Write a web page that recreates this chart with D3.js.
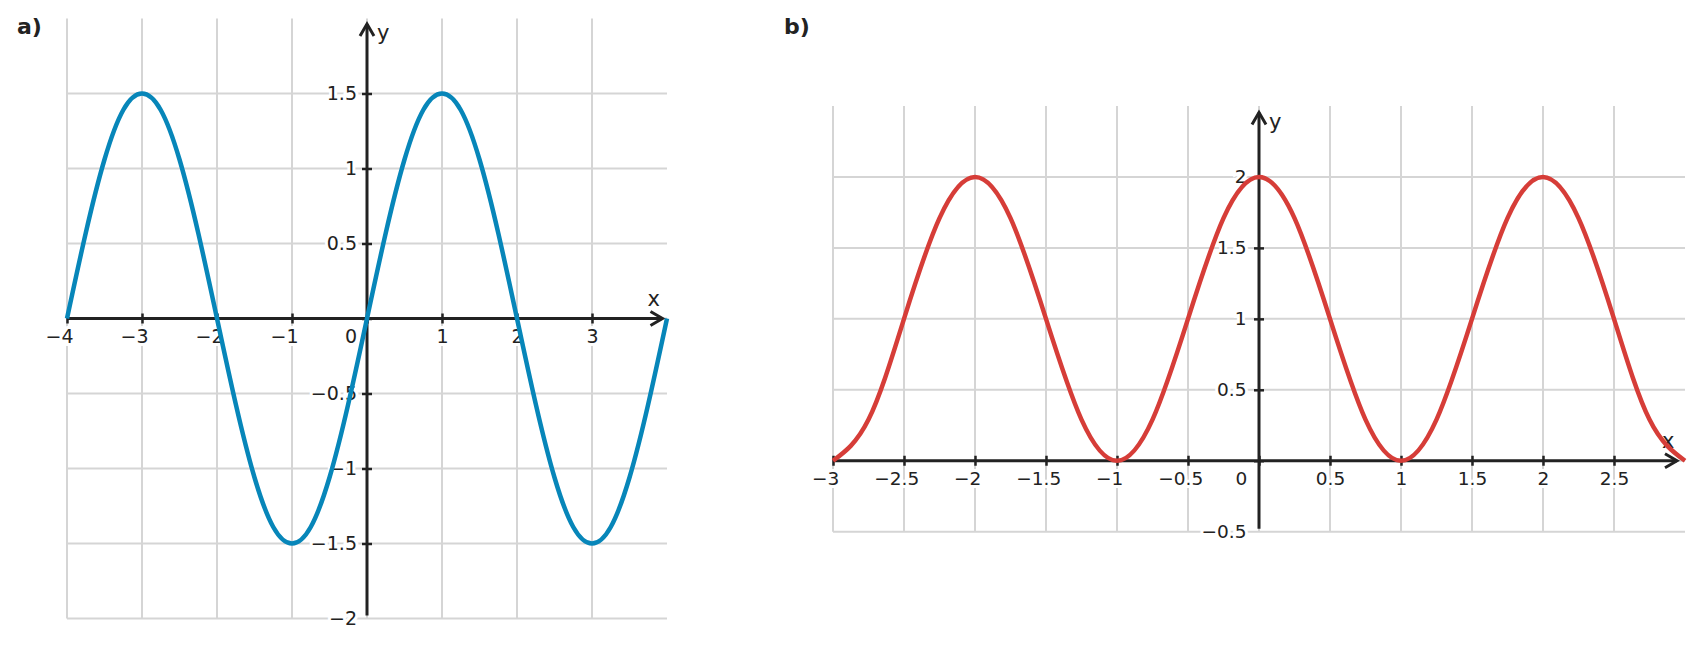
<!doctype html>
<html>
<head>
<meta charset="utf-8">
<style>
body { margin: 0; background: white; }
text { font-family: "DejaVu Sans", sans-serif; fill: #222; }
</style>
<script src="https://cdnjs.cloudflare.com/ajax/libs/d3/7.8.5/d3.min.js"></script>
</head>
<body>
<div id="chart"></div>
<script>
var aX = [-4, -3.75, -3.5, -3.25, -3, -2.75, -2.5, -2.25, -2, -1.75, -1.5, -1.25, -1, -0.75, -0.5, -0.25,
          0, 0.25, 0.5, 0.75, 1, 1.25, 1.5, 1.75, 2, 2.25, 2.5, 2.75, 3, 3.25, 3.5, 3.75, 4];
var aY = [0, 0.57, 1.06, 1.39, 1.5, 1.39, 1.06, 0.57, 0, -0.57, -1.06, -1.39, -1.5, -1.39, -1.06, -0.57,
          0, 0.57, 1.06, 1.39, 1.5, 1.39, 1.06, 0.57, 0, -0.57, -1.06, -1.39, -1.5, -1.39, -1.06, -0.57, 0];
var aTicksX = [-4, -3, -2, -1, 0, 1, 2, 3];
var aTicksY = [-2, -1.5, -1, -0.5, 0, 0.5, 1, 1.5];

// panel b
var bX = [-3, -2.75, -2.5, -2.25, -2, -1.75, -1.5, -1.25, -1, -0.75, -0.5, -0.25,
          0, 0.25, 0.5, 0.75, 1, 1.25, 1.5, 1.75, 2, 2.25, 2.5, 2.75, 3];
var bY = [0, 0.29, 1, 1.71, 2, 1.71, 1, 0.29, 0, 0.29, 1, 1.71,
          2, 1.71, 1, 0.29, 0, 0.29, 1, 1.71, 2, 1.71, 1, 0.29, 0];
var bTicksX = [-3, -2.5, -2, -1.5, -1, -0.5, 0, 0.5, 1, 1.5, 2, 2.5];
var bTicksY = [-0.5, 0, 0.5, 1, 1.5, 2];

var width = 1702, height = 648;

var svg = d3.select("#chart").append("svg")
    .attr("width", width)
    .attr("height", height);

function fmt(d) {
  if (d === 0) return "";
  return (d < 0 ? "\u2212" : "") + Math.abs(d);
}

function panel(o) {
  var x = d3.scaleLinear().domain(o.xDomain).range(o.xRange);
  var y = d3.scaleLinear().domain(o.yDomain).range(o.yRange);
  var g = svg.append("g");

  // grid
  g.selectAll(".vgrid").data(o.ticksX).enter().append("line")
    .attr("x1", d => x(d)).attr("x2", d => x(d))
    .attr("y1", y(o.yDomain[0])).attr("y2", y(o.yDomain[1]))
    .attr("stroke", "#d5d5d5").attr("stroke-width", 2);
  g.selectAll(".hgrid").data(o.ticksY).enter().append("line")
    .attr("y1", d => y(d)).attr("y2", d => y(d))
    .attr("x1", x(o.xDomain[0])).attr("x2", x(o.xDomain[1]))
    .attr("stroke", "#d5d5d5").attr("stroke-width", 2);

  // x axis ticks + labels
  var xa = g.append("g")
    .attr("transform", "translate(0," + y(0) + ")")
    .call(d3.axisBottom(x).tickValues(o.ticksX).tickSize(5).tickFormat(fmt));
  xa.select(".domain").remove();
  xa.selectAll(".tick line").attr("y1", -5).attr("y2", 5)
    .attr("stroke", "#222").attr("stroke-width", 2.5);
  // minus sign hangs to the left, digits stay centred on the tick
  xa.selectAll(".tick text").attr("y", 18).attr("dy", "0.35em")
    .attr("dx", d => d < 0 ? "-0.42em" : null);
  xa.append("text").attr("x", x(0) - o.zeroShift).attr("y", 18).attr("dy", "0.35em")
    .attr("text-anchor", "middle").text("0");

  // y axis ticks + labels
  var ya = g.append("g")
    .attr("transform", "translate(" + x(0) + ",0)")
    .call(d3.axisLeft(y).tickValues(o.ticksY).tickSize(5).tickFormat(fmt));
  ya.select(".domain").remove();
  ya.selectAll(".tick line").attr("x1", 5).attr("x2", -5)
    .attr("stroke", "#222").attr("stroke-width", 2.5)
    .attr("display", d => d === o.yDomain[0] ? "none" : null);
  ya.selectAll(".tick text").attr("x", -o.yLabelGap).attr("dy", "0.3em");

  [xa, ya].forEach(function (ax) {
    ax.attr("font-size", null).attr("font-family", null);
    ax.selectAll("text")
      .attr("fill", "#222")
      .style("font-size", o.fontSize + "px")
      .attr("stroke", "white").attr("stroke-width", 6)
      .attr("paint-order", "stroke");
  });

  // axis lines with open arrow heads
  var tipX = x(o.xDomain[1]) - o.tipInset[0];
  var tipY = y(o.yDomain[1]) + o.tipInset[1];
  var y0 = y(0), x0 = x(0);
  g.append("line").attr("x1", x(o.xDomain[0])).attr("x2", tipX)
    .attr("y1", y0).attr("y2", y0)
    .attr("stroke", "#222").attr("stroke-width", 3);
  g.append("path")
    .attr("d", "M" + (tipX - 12) + "," + (y0 - 7) + "L" + tipX + "," + y0 + "L" + (tipX - 12) + "," + (y0 + 7))
    .attr("fill", "none").attr("stroke", "#222").attr("stroke-width", 3);
  g.append("line").attr("x1", x0).attr("x2", x0)
    .attr("y1", y(o.yDomain[0]) - 3).attr("y2", tipY)
    .attr("stroke", "#222").attr("stroke-width", 3);
  g.append("path")
    .attr("d", "M" + (x0 - 7) + "," + (tipY + 12) + "L" + x0 + "," + tipY + "L" + (x0 + 7) + "," + (tipY + 12))
    .attr("fill", "none").attr("stroke", "#222").attr("stroke-width", 3);

  g.append("text").attr("x", tipX - 15).attr("y", y0 - 13)
    .style("font-size", "21px").text("x");
  g.append("text").attr("x", x0 + 10).attr("y", tipY + 16)
    .style("font-size", "21px").text("y");

  // the curve
  var pts = o.xs.map((d, i) => [d, o.ys[i]]);
  g.append("path")
    .datum(pts)
    .attr("fill", "none")
    .attr("stroke", o.color)
    .attr("stroke-width", 4.5)
    .attr("d", d3.line().x(d => x(d[0])).y(d => y(d[1])).curve(d3.curveNatural));

  svg.append("text").attr("x", o.label[1]).attr("y", 34)
    .style("font-size", "22px").style("font-weight", "bold").text(o.label[0]);
}

panel({
  xDomain: [-4, 4], xRange: [67, 667],
  yDomain: [-2, 2], yRange: [618.5, 18.5],
  ticksX: aTicksX, ticksY: aTicksY,
  xs: aX, ys: aY, color: "#0786b9",
  zeroShift: 16, yLabelGap: 10, fontSize: 19,
  tipInset: [4.5, 5.5], label: ["a)", 17]
});

panel({
  xDomain: [-3, 3], xRange: [833, 1685],
  yDomain: [-0.5, 2.5], yRange: [531.7, 106],
  ticksX: bTicksX, ticksY: bTicksY,
  xs: bX, ys: bY, color: "#d63d38",
  zeroShift: 17.5, yLabelGap: 12.5, fontSize: 18.5,
  tipInset: [8, 6.5], label: ["b)", 784]
});
</script>
</body>
</html>
